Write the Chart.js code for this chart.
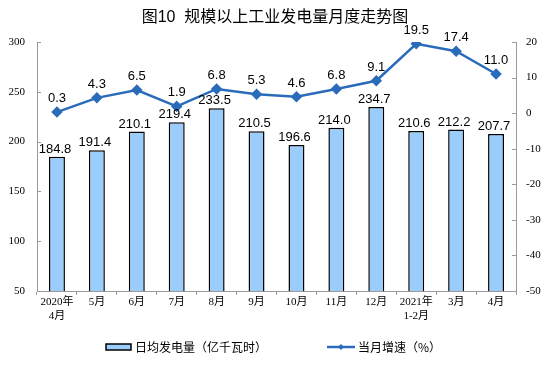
<!DOCTYPE html>
<html><head><meta charset="utf-8">
<script src="https://cdn.jsdelivr.net/npm/chart.js@4"></script>
<style>html,body{margin:0;padding:0;background:#fff}#wrap{width:554px;height:381px}</style>
</head><body><div id="wrap"><canvas id="c" width="554" height="381"></canvas></div>
<script>
const titleText = "图10  规模以上工业发电量月度走势图";
const categories = [["2020年","4月"],"5月","6月","7月","8月","9月","10月","11月","12月",["2021年","1-2月"],"3月","4月"];
const dailyPower = [184.8,191.4,210.1,219.4,233.5,210.5,196.6,214.0,234.7,210.6,212.2,207.7];
const growthRate = [0.3,4.3,6.5,1.9,6.8,5.3,4.6,6.8,9.1,19.5,17.4,11.0];
const leftTicks = [50,100,150,200,250,300];
const rightTicks = [-50,-40,-30,-20,-10,0,10,20];
const seriesNames = ["日均发电量（亿千瓦时）","当月增速（%）"];

const BAR_FILL = "#9ACDFB";
const LINE_COLOR = "#2B6CBA";
const AXIS_COLOR = "#9a9a9a";
const LABEL_FONT = "13px 'Liberation Sans', Arial, sans-serif";
const TICK_FONT = {family:"'Liberation Serif', 'Noto Sans CJK SC', serif", size:11};

const decorPlugin = {
  id:'decor',
  afterDatasetsDraw(chart){
    const ctx = chart.ctx;
    const area = chart.chartArea;
    ctx.save();
    // inward ticks on y axes
    ctx.strokeStyle = AXIS_COLOR; ctx.lineWidth = 1;
    const yl = chart.scales.y, yr = chart.scales.y1;
    leftTicks.forEach(v=>{const p=Math.round(yl.getPixelForValue(v))+0.5;ctx.beginPath();ctx.moveTo(area.left,p);ctx.lineTo(area.left+4,p);ctx.stroke();});
    rightTicks.forEach(v=>{const p=Math.round(yr.getPixelForValue(v))+0.5;ctx.beginPath();ctx.moveTo(area.right,p);ctx.lineTo(area.right-4,p);ctx.stroke();});
    // data labels
    ctx.fillStyle = '#000'; ctx.font = LABEL_FONT; ctx.textAlign='center'; ctx.textBaseline='bottom';
    const barMeta = chart.getDatasetMeta(0);
    barMeta.data.forEach((el,i)=>{ ctx.fillText(dailyPower[i].toFixed(1), el.x-2, el.y-1); });
    const lineMeta = chart.getDatasetMeta(1);
    lineMeta.data.forEach((el,i)=>{ ctx.fillText(growthRate[i].toFixed(1), el.x, el.y-7); });
    // title
    ctx.font = "16px 'Liberation Sans', 'Noto Sans CJK SC', sans-serif";
    ctx.textBaseline='middle';
    ctx.fillText(titleText, 275, 18);
    // legend
    ctx.font = "12px 'Noto Sans CJK SC', sans-serif";
    ctx.textAlign='left';
    const ly = 347;
    ctx.fillStyle = BAR_FILL; ctx.fillRect(106,344,25,6);
    ctx.strokeStyle = '#000'; ctx.lineWidth = 1.5; ctx.strokeRect(106,344,25,6);
    ctx.fillStyle='#000'; ctx.fillText(chart.data.datasets[0].label,135,ly);
    ctx.strokeStyle = LINE_COLOR; ctx.lineWidth = 2.5;
    ctx.beginPath(); ctx.moveTo(327,ly); ctx.lineTo(355,ly); ctx.stroke();
    ctx.fillStyle = LINE_COLOR; ctx.beginPath(); ctx.moveTo(341,ly-3); ctx.lineTo(344,ly); ctx.lineTo(341,ly+3); ctx.lineTo(338,ly); ctx.closePath(); ctx.fill();
    ctx.fillStyle='#000'; ctx.fillText(chart.data.datasets[1].label,358,ly);
    ctx.restore();
  }
};

new Chart(document.getElementById('c'), {
  data:{
    labels:categories,
    datasets:[
      {type:'bar', label:seriesNames[0], data:dailyPower, yAxisID:'y', backgroundColor:BAR_FILL, borderColor:'#000', borderWidth:1.5, barPercentage:0.4, categoryPercentage:1, order:2},
      {type:'line', label:seriesNames[1], data:growthRate, yAxisID:'y1', borderColor:LINE_COLOR, backgroundColor:LINE_COLOR, borderWidth:2.5, pointStyle:'rectRot', pointRadius:4, pointBackgroundColor:LINE_COLOR, pointBorderColor:LINE_COLOR, tension:0, order:1}
    ]
  },
  options:{
    responsive:false, animation:false, devicePixelRatio:1,
    layout:{padding:{top:42,left:0,right:0,bottom:50}},
    plugins:{legend:{display:false}, title:{display:false}, tooltip:{enabled:false}},
    scales:{
      x:{
        offset:true,
        grid:{display:true, drawOnChartArea:false, drawTicks:true, tickLength:4, color:AXIS_COLOR, offset:true},
        border:{display:true, color:AXIS_COLOR},
        ticks:{font:TICK_FONT, color:'#000', padding:1, maxRotation:0, autoSkip:false},
        afterFit(s){ s.height = 40; }
      },
      y:{
        position:'left', min:50, max:300,
        afterBuildTicks(s){ s.ticks = leftTicks.map(v=>({value:v})); },
        grid:{display:false, drawTicks:false},
        border:{display:true, color:AXIS_COLOR},
        ticks:{font:TICK_FONT, color:'#000', padding:12},
        afterFit(s){ s.width = 37; }
      },
      y1:{
        position:'right', min:-50, max:20,
        afterBuildTicks(s){ s.ticks = rightTicks.map(v=>({value:v})); },
        grid:{display:false, drawTicks:false},
        border:{display:true, color:AXIS_COLOR},
        ticks:{font:TICK_FONT, color:'#000', padding:10},
        afterFit(s){ s.width = 38; }
      }
    }
  },
  plugins:[decorPlugin]
});
</script></body></html>
